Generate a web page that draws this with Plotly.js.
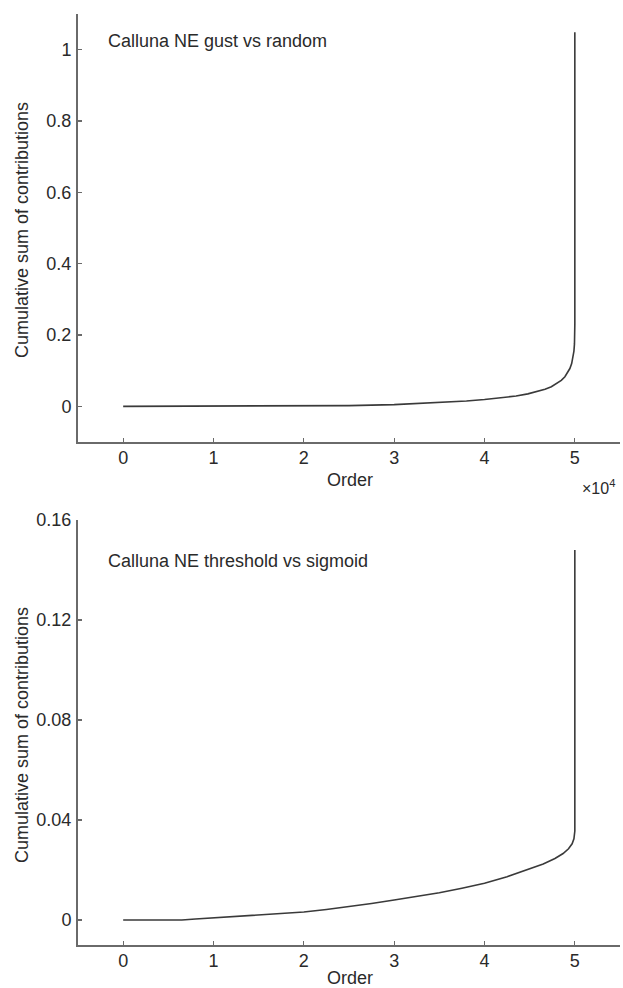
<!DOCTYPE html>
<html>
<head>
<meta charset="utf-8">
<script src="https://cdn.plot.ly/plotly-3.0.1.min.js"></script>
<style>html,body{margin:0;padding:0;background:#fff;}#chart{width:623px;height:988px;}</style>
</head>
<body>
<div id="chart"></div>
<script>
// Top panel: Calluna NE gust vs random
var orderTop = [0, 10000, 20000, 25000, 30000, 35000, 38000, 40000, 42000, 43500, 44800, 45800, 46700, 47400, 48000, 48500, 48900, 49200, 49450, 49650, 49800, 49900, 49960, 49990, 50000, 50000];
var cumTop   = [0, 0, 0.0008, 0.002, 0.0047, 0.010, 0.015, 0.019, 0.024, 0.029, 0.035, 0.041, 0.048, 0.055, 0.064, 0.073, 0.083, 0.094, 0.106, 0.12, 0.137, 0.155, 0.175, 0.2, 0.23, 1.049];
// Bottom panel: Calluna NE threshold vs sigmoid
var orderBot = [0, 6500, 8000, 10000, 12500, 15000, 17500, 20000, 22500, 25000, 27500, 30000, 32500, 35000, 37500, 40000, 42500, 45000, 46500, 47800, 48700, 49300, 49700, 49900, 50000, 50000];
var cumBot   = [0, 0, 0.0004, 0.0009, 0.0014, 0.0019, 0.0025, 0.0032, 0.0042, 0.0053, 0.0066, 0.008, 0.0094, 0.0109, 0.0127, 0.0147, 0.0173, 0.0203, 0.0224, 0.0246, 0.0266, 0.0285, 0.0305, 0.0325, 0.0356, 0.148];

var xTickVals = [0, 10000, 20000, 30000, 40000, 50000];
var xTickText = ['0', '1', '2', '3', '4', '5'];
var yTopTicks = [0, 0.2, 0.4, 0.6, 0.8, 1];
var yTopText = ['0', '0.2', '0.4', '0.6', '0.8', '1'];
var yBotTicks = [0, 0.04, 0.08, 0.12, 0.16];
var yBotText = ['0', '0.04', '0.08', '0.12', '0.16'];

var W = 623, H = 988;
var axColor = '#6a6a6a';
var txtColor = '#2a2a2a';
var fnt = {family: 'Liberation Sans, Arial, sans-serif', size: 18, color: txtColor};

function xaxis(anchor) {
  return {
    domain: [78 / W, 620 / W], range: [-5000, 55000], anchor: anchor,
    tickvals: xTickVals, ticktext: xTickText,
    ticks: 'inside', ticklen: 4, tickwidth: 1.2, tickcolor: axColor,
    showline: true, linecolor: axColor, linewidth: 2,
    showgrid: false, zeroline: false, tickfont: fnt, ticklabelstandoff: -2
  };
}
function yaxis(anchor, dom, rng, tv, tt) {
  return {
    domain: dom, range: rng, anchor: anchor,
    tickvals: tv, ticktext: tt,
    ticks: 'inside', ticklen: 4, tickwidth: 1.2, tickcolor: axColor,
    showline: true, linecolor: axColor, linewidth: 2,
    showgrid: false, zeroline: false, tickfont: fnt, ticklabelstandoff: 1
  };
}

var traces = [
  {x: orderTop, y: cumTop, xaxis: 'x', yaxis: 'y', type: 'scatter', mode: 'lines',
   line: {color: '#3a3a3a', width: 1.6}, hoverinfo: 'skip'},
  {x: orderBot, y: cumBot, xaxis: 'x2', yaxis: 'y2', type: 'scatter', mode: 'lines',
   line: {color: '#3a3a3a', width: 1.6}, hoverinfo: 'skip'}
];

var layout = {
  width: W, height: H,
  margin: {l: 0, r: 0, t: 0, b: 0},
  paper_bgcolor: '#fff', plot_bgcolor: '#fff',
  showlegend: false,
  font: fnt,
  xaxis: xaxis('y'),
  yaxis: yaxis('x', [1 - 442 / H, 1 - 14 / H], [-0.1, 1.1], yTopTicks, yTopText),
  xaxis2: xaxis('y2'),
  yaxis2: yaxis('x2', [1 - 945 / H, 1 - 520 / H], [-0.01, 0.16], yBotTicks, yBotText),
  annotations: [
    {text: 'Calluna NE gust vs random', xref: 'paper', yref: 'paper', x: 106 / W, y: 1 - 41 / H,
     xanchor: 'left', yanchor: 'middle', showarrow: false, font: fnt},
    {text: 'Calluna NE threshold vs sigmoid', xref: 'paper', yref: 'paper', x: 106 / W, y: 1 - 561 / H,
     xanchor: 'left', yanchor: 'middle', showarrow: false, font: fnt},
    {text: 'Cumulative sum of contributions', xref: 'paper', yref: 'paper', x: 22 / W, y: 1 - 230 / H,
     xanchor: 'center', yanchor: 'middle', textangle: -90, showarrow: false, font: fnt},
    {text: 'Cumulative sum of contributions', xref: 'paper', yref: 'paper', x: 22 / W, y: 1 - 735 / H,
     xanchor: 'center', yanchor: 'middle', textangle: -90, showarrow: false, font: fnt},
    {text: 'Order', xref: 'paper', yref: 'paper', x: 350 / W, y: 1 - 480 / H,
     xanchor: 'center', yanchor: 'middle', showarrow: false, font: fnt},
    {text: 'Order', xref: 'paper', yref: 'paper', x: 350 / W, y: 1 - 978 / H,
     xanchor: 'center', yanchor: 'middle', showarrow: false, font: fnt},
    {text: '×10<sup>4</sup>', xref: 'paper', yref: 'paper', x: 598 / W, y: 1 - 487 / H,
     xanchor: 'center', yanchor: 'middle', showarrow: false,
     font: {family: fnt.family, size: 16, color: txtColor}}
  ]
};

Plotly.newPlot('chart', traces, layout, {displayModeBar: false, staticPlot: true});
</script>
</body>
</html>
